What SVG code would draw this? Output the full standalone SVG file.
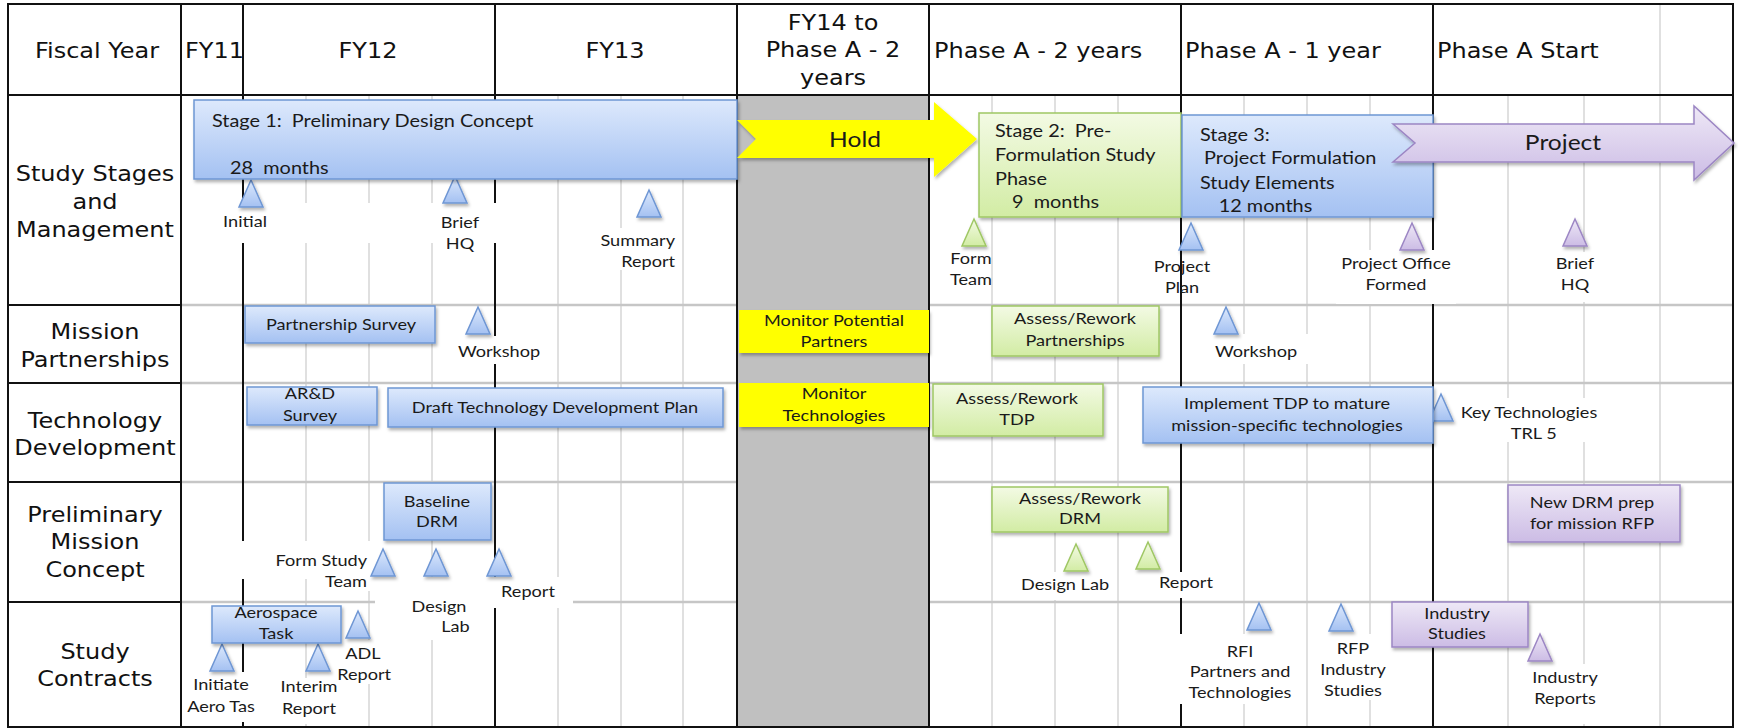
<svg xmlns="http://www.w3.org/2000/svg" width="1738" height="728" viewBox="0 0 1738 728">
<defs>
<linearGradient id="gB" x1="0" y1="0" x2="0" y2="1"><stop offset="0" stop-color="#dde9fc"/><stop offset="1" stop-color="#a4c1f2"/></linearGradient>
<linearGradient id="gG" x1="0" y1="0" x2="0" y2="1"><stop offset="0" stop-color="#f3fae4"/><stop offset="1" stop-color="#d2eca4"/></linearGradient>
<linearGradient id="gP" x1="0" y1="0" x2="0" y2="1"><stop offset="0" stop-color="#eee8f6"/><stop offset="1" stop-color="#ccbce5"/></linearGradient>
<filter id="sh" x="-10%" y="-10%" width="130%" height="150%"><feDropShadow dx="1.5" dy="2.5" stdDeviation="1.5" flood-color="#000" flood-opacity="0.3"/></filter>
<path id="tri" d="M0,0 L12,27 L-12,27 Z"/>
</defs>
<style>
.hd{font-family:"DejaVu Sans",Verdana,sans-serif;font-size:20.5px;fill:#111}
.c{text-anchor:middle}
.e{text-anchor:end}
.lb{font-family:Lato,"Open Sans",sans-serif;font-size:15.5px;fill:#1a1a1a;white-space:pre}
.st{font-family:Lato,"Open Sans",sans-serif;font-size:17px;fill:#1a1a1a;white-space:pre}
.big{font-family:Lato,"Open Sans",sans-serif;font-size:21px;fill:#1a1a1a}
.bx{stroke-width:1.5;filter:url(#sh)}
.b{fill:url(#gB);stroke:#6e96d4}
.g{fill:url(#gG);stroke:#9fc764}
.p{fill:url(#gP);stroke:#9c86c4}
.y{fill:#ffff00}
.minor{stroke:#d6d6d6;stroke-width:1.5}
.hl{stroke:#c6c6c6;stroke-width:2.5}
.blk{stroke:#111;stroke-width:2}
.wb{fill:#fff}
</style>
<rect x="0" y="0" width="1738" height="728" fill="#fff"/>
<g id="grid">
<g class="minor">
<line x1="306" y1="96" x2="306" y2="727"/><line x1="369" y1="96" x2="369" y2="727"/><line x1="432" y1="96" x2="432" y2="727"/>
<line x1="558" y1="96" x2="558" y2="727"/><line x1="621" y1="96" x2="621" y2="727"/><line x1="683" y1="96" x2="683" y2="727"/>
<line x1="992" y1="96" x2="992" y2="727"/><line x1="1055" y1="96" x2="1055" y2="727"/><line x1="1118" y1="96" x2="1118" y2="727"/>
<line x1="1244" y1="96" x2="1244" y2="727"/><line x1="1307" y1="96" x2="1307" y2="727"/><line x1="1370" y1="96" x2="1370" y2="727"/>
<line x1="1508" y1="96" x2="1508" y2="727"/><line x1="1584" y1="96" x2="1584" y2="727"/><line x1="1660" y1="4" x2="1660" y2="727"/>
</g>
<g class="hl">
<line x1="181" y1="305" x2="1733" y2="305"/><line x1="181" y1="383" x2="1733" y2="383"/>
<line x1="181" y1="482" x2="1733" y2="482"/><line x1="181" y1="602" x2="1733" y2="602"/>
</g>
<rect x="737" y="96" width="192" height="631" fill="#c0c0c0"/>
<g class="blk">
<line x1="8" y1="95" x2="1733" y2="95"/>
<line x1="8" y1="305" x2="181" y2="305"/><line x1="8" y1="383" x2="181" y2="383"/>
<line x1="8" y1="482" x2="181" y2="482"/><line x1="8" y1="602" x2="181" y2="602"/>
<line x1="181" y1="4" x2="181" y2="727"/><line x1="243" y1="4" x2="243" y2="727"/>
<line x1="495" y1="4" x2="495" y2="727"/><line x1="737" y1="4" x2="737" y2="727"/>
<line x1="929" y1="4" x2="929" y2="727"/><line x1="1181" y1="4" x2="1181" y2="727"/>
<line x1="1433" y1="4" x2="1433" y2="727"/>
</g>
<rect x="8" y="4" width="1725" height="723" fill="none" stroke="#111" stroke-width="2"/>
<g class="wb">
<rect x="222" y="203" width="276" height="40"/><rect x="436" y="240" width="50" height="12"/>
<rect x="596" y="228" width="82" height="42"/>
<rect x="1336" y="250" width="120" height="54"/>
<rect x="1550" y="252" width="52" height="50"/>
<rect x="458" y="336" width="84" height="28"/>
<rect x="1216" y="334" width="94" height="30"/>
<rect x="1455" y="398" width="148" height="44"/>
<rect x="238" y="541" width="132" height="38"/><rect x="340" y="579" width="30" height="12"/>
<rect x="375" y="577" width="198" height="31"/><rect x="410" y="608" width="60" height="32"/>
<rect x="1022" y="572" width="88" height="28"/>
<rect x="1158" y="572" width="60" height="26"/>
<rect x="190" y="672" width="62" height="50"/>
<rect x="280" y="678" width="60" height="46"/>
<rect x="337" y="640" width="56" height="44"/>
<rect x="1176" y="634" width="130" height="70"/>
<rect x="1310" y="634" width="68" height="66"/>
<rect x="1522" y="664" width="88" height="60"/>
</g>
</g>
<g id="header">
<text class="hd c" transform="translate(97 58) scale(1.17 1)">Fiscal Year</text>
<text class="hd" transform="translate(185 58) scale(1.17 1)">FY11</text>
<text class="hd c" transform="translate(368 58) scale(1.17 1)">FY12</text>
<text class="hd c" transform="translate(615 58) scale(1.17 1)">FY13</text>
<text class="hd c" transform="translate(833 30) scale(1.17 1)"><tspan x="0">FY14 to</tspan><tspan x="0" dy="27.5">Phase A - 2</tspan><tspan x="0" dy="27.5">years</tspan></text>
<text class="hd" transform="translate(934 58) scale(1.17 1)">Phase A - 2 years</text>
<text class="hd" transform="translate(1185 58) scale(1.17 1)">Phase A - 1 year</text>
<text class="hd" transform="translate(1437 58) scale(1.17 1)">Phase A Start</text>
</g>
<g id="row-labels">
<text class="hd c" transform="translate(95 181) scale(1.17 1)"><tspan x="0">Study Stages</tspan><tspan x="0" dy="28">and</tspan><tspan x="0" dy="28">Management</tspan></text>
<text class="hd c" transform="translate(95 339) scale(1.17 1)"><tspan x="0">Mission</tspan><tspan x="0" dy="28">Partnerships</tspan></text>
<text class="hd c" transform="translate(95 428) scale(1.17 1)"><tspan x="0">Technology</tspan><tspan x="0" dy="27">Development</tspan></text>
<text class="hd c" transform="translate(95 522) scale(1.17 1)"><tspan x="0">Preliminary</tspan><tspan x="0" dy="27">Mission</tspan><tspan x="0" dy="28">Concept</tspan></text>
<text class="hd c" transform="translate(95 659) scale(1.17 1)"><tspan x="0">Study</tspan><tspan x="0" dy="27">Contracts</tspan></text>
</g>
<g id="ms-initial"><use href="#tri" class="b bx" x="251" y="180"/><text class="lb c" transform="translate(245 227) scale(1.17 1)">Initial</text></g>
<g id="ms-brief-hq-1"><use href="#tri" class="b bx" x="455" y="176"/><text class="lb c" transform="translate(460 228) scale(1.17 1)"><tspan x="0">Brief</tspan><tspan x="0" dy="21">HQ</tspan></text></g>
<g id="ms-summary-report"><use href="#tri" class="b bx" x="649" y="190"/><text class="lb e" transform="translate(675 246) scale(1.17 1)"><tspan x="0">Summary</tspan><tspan x="0" dy="21">Report</tspan></text></g>
<g id="ms-form-team"><use href="#tri" class="g bx" x="974" y="219"/><text class="lb c" transform="translate(971 264) scale(1.17 1)"><tspan x="0">Form</tspan><tspan x="0" dy="21">Team</tspan></text></g>
<g id="ms-project-plan"><use href="#tri" class="b bx" x="1191" y="223"/><text class="lb c" transform="translate(1182 272) scale(1.17 1)"><tspan x="0">Project</tspan><tspan x="0" dy="21">Plan</tspan></text></g>
<g id="ms-project-office"><use href="#tri" class="p bx" x="1412" y="223"/><text class="lb c" transform="translate(1396 269) scale(1.17 1)"><tspan x="0">Project Office</tspan><tspan x="0" dy="21">Formed</tspan></text></g>
<g id="ms-brief-hq-2"><use href="#tri" class="p bx" x="1575" y="219"/><text class="lb c" transform="translate(1575 269) scale(1.17 1)"><tspan x="0">Brief</tspan><tspan x="0" dy="21">HQ</tspan></text></g>
<g id="ms-workshop-1"><use href="#tri" class="b bx" x="478" y="307"/><text class="lb c" transform="translate(499 357) scale(1.17 1)">Workshop</text></g>
<g id="ms-workshop-2"><use href="#tri" class="b bx" x="1226" y="307"/><text class="lb c" transform="translate(1256 357) scale(1.17 1)">Workshop</text></g>
<g id="ms-key-tech"><use href="#tri" class="b bx" x="1441" y="394"/><text class="lb c" transform="translate(1529 418) scale(1.17 1)"><tspan x="0">Key Technologies</tspan><tspan x="4" dy="21">TRL 5</tspan></text></g>
<g id="ms-form-study-team"><use href="#tri" class="b bx" x="383" y="549"/><text class="lb e" transform="translate(367 566) scale(1.17 1)"><tspan x="0">Form Study</tspan><tspan x="0" dy="21">Team</tspan></text></g>
<g id="ms-design-lab-1"><use href="#tri" class="b bx" x="436" y="549"/><text class="lb c" transform="translate(439 612) scale(1.17 1)"><tspan x="0">Design</tspan><tspan x="14" dy="20">Lab</tspan></text></g>
<g id="ms-report-1"><use href="#tri" class="b bx" x="499" y="549"/><text class="lb c" transform="translate(528 597) scale(1.17 1)">Report</text></g>
<g id="ms-design-lab-2"><use href="#tri" class="g bx" x="1076" y="544"/><text class="lb c" transform="translate(1065 590) scale(1.17 1)">Design Lab</text></g>
<g id="ms-report-2"><use href="#tri" class="g bx" x="1148" y="542"/><text class="lb c" transform="translate(1186 588) scale(1.17 1)">Report</text></g>
<g id="ms-initiate"><use href="#tri" class="b bx" x="222" y="644"/><text class="lb c" transform="translate(221 690) scale(1.17 1)"><tspan x="0">Initiate</tspan><tspan x="0" dy="22">Aero Tas</tspan></text></g>
<g id="ms-interim"><use href="#tri" class="b bx" x="318" y="644"/><text class="lb c" transform="translate(309 692) scale(1.17 1)"><tspan x="0">Interim</tspan><tspan x="0" dy="22">Report</tspan></text></g>
<g id="ms-adl"><use href="#tri" class="b bx" x="358" y="611"/><text class="lb c" transform="translate(363 659) scale(1.17 1)"><tspan x="0">ADL</tspan><tspan x="1" dy="21">Report</tspan></text></g>
<g id="ms-rfi"><use href="#tri" class="b bx" x="1259" y="603"/><text class="lb c" transform="translate(1240 657) scale(1.17 1)"><tspan x="0">RFI</tspan><tspan x="0" dy="20.5">Partners and</tspan><tspan x="0" dy="20.5">Technologies</tspan></text></g>
<g id="ms-rfp"><use href="#tri" class="b bx" x="1341" y="604"/><text class="lb c" transform="translate(1353 654) scale(1.17 1)"><tspan x="0">RFP</tspan><tspan x="0" dy="21.5">Industry</tspan><tspan x="0" dy="21">Studies</tspan></text></g>
<g id="ms-industry-reports"><use href="#tri" class="p bx" x="1540" y="634"/><text class="lb c" transform="translate(1565 683) scale(1.17 1)"><tspan x="0">Industry</tspan><tspan x="0" dy="21">Reports</tspan></text></g>
<g id="stage1"><rect class="b bx" x="194" y="100" width="543" height="79"/><text class="st" transform="translate(212 127) scale(1.17 1)">Stage 1:  Preliminary Design Concept</text><text class="st" transform="translate(230 174) scale(1.17 1)">28  months</text></g>
<g id="hold"><polygon class="y" filter="url(#sh)" points="737,120 934,120 934,102 977,139 934,177 934,158 737,158 756,139"/><text class="big c" transform="translate(855 147) scale(1.17 1)">Hold</text></g>
<g id="stage2"><rect class="g bx" x="979" y="113" width="202" height="104"/><text class="st" transform="translate(995 137) scale(1.17 1)"><tspan x="0">Stage 2:  Pre-</tspan><tspan x="0" dy="24">Formulation Study</tspan><tspan x="0" dy="24.5">Phase</tspan><tspan x="14.5" dy="23">9  months</tspan></text></g>
<g id="stage3"><rect class="b bx" x="1182" y="115" width="251" height="102"/><text class="st" transform="translate(1200 141) scale(1.17 1)"><tspan x="0">Stage 3:</tspan><tspan x="3.5" dy="23">Project Formulation</tspan><tspan x="0" dy="25">Study Elements</tspan><tspan x="16" dy="23">12 months</tspan></text></g>
<g id="project"><polygon class="p bx" points="1393,124 1694,124 1694,106 1734,143 1694,180 1694,162 1393,162 1415,143"/><text class="big c" transform="translate(1563 150) scale(1.17 1)">Project</text></g>
<g id="partnership-survey"><rect class="b bx" x="245" y="306" width="190" height="37"/><text class="lb c" transform="translate(341 330) scale(1.17 1)">Partnership Survey</text></g>
<g id="monitor-partners"><rect class="y" filter="url(#sh)" x="739" y="310" width="190" height="43"/><text class="lb c" transform="translate(834 326) scale(1.17 1)"><tspan x="0">Monitor Potential</tspan><tspan x="0" dy="21">Partners</tspan></text></g>
<g id="assess-partnerships"><rect class="g bx" x="992" y="306" width="167" height="50"/><text class="lb c" transform="translate(1075 324) scale(1.17 1)"><tspan x="0">Assess/Rework</tspan><tspan x="0" dy="22">Partnerships</tspan></text></g>
<g id="ard-survey"><rect class="b bx" x="247" y="387" width="130" height="38"/><text class="lb c" transform="translate(310 399) scale(1.17 1)"><tspan x="0">AR&amp;D</tspan><tspan x="0" dy="22">Survey</tspan></text></g>
<g id="draft-tdp"><rect class="b bx" x="388" y="388" width="335" height="39"/><text class="lb c" transform="translate(555 413) scale(1.17 1)">Draft Technology Development Plan</text></g>
<g id="monitor-tech"><rect class="y" filter="url(#sh)" x="739" y="383" width="190" height="44"/><text class="lb c" transform="translate(834 399) scale(1.17 1)"><tspan x="0">Monitor</tspan><tspan x="0" dy="22">Technologies</tspan></text></g>
<g id="assess-tdp"><rect class="g bx" x="933" y="384" width="170" height="52"/><text class="lb c" transform="translate(1017 404) scale(1.17 1)"><tspan x="0">Assess/Rework</tspan><tspan x="0" dy="21">TDP</tspan></text></g>
<g id="implement-tdp"><rect class="b bx" x="1143" y="387" width="290" height="56"/><text class="lb c" transform="translate(1287 409) scale(1.17 1)"><tspan x="0">Implement TDP to mature</tspan><tspan x="0" dy="22">mission-specific technologies</tspan></text></g>
<g id="baseline-drm"><rect class="b bx" x="384" y="483" width="107" height="57"/><text class="lb c" transform="translate(437 507) scale(1.17 1)"><tspan x="0">Baseline</tspan><tspan x="0" dy="20">DRM</tspan></text></g>
<g id="assess-drm"><rect class="g bx" x="992" y="487" width="176" height="45"/><text class="lb c" transform="translate(1080 504) scale(1.17 1)"><tspan x="0">Assess/Rework</tspan><tspan x="0" dy="20">DRM</tspan></text></g>
<g id="new-drm"><rect class="p bx" x="1508" y="485" width="172" height="57"/><text class="lb c" transform="translate(1592 508) scale(1.17 1)"><tspan x="0">New DRM prep</tspan><tspan x="0" dy="21">for mission RFP</tspan></text></g>
<g id="aerospace-task"><rect class="b bx" x="212" y="606" width="129" height="37"/><text class="lb c" transform="translate(276 618) scale(1.17 1)"><tspan x="0">Aerospace</tspan><tspan x="0" dy="21">Task</tspan></text></g>
<g id="industry-studies"><rect class="p bx" x="1392" y="602" width="136" height="45"/><text class="lb c" transform="translate(1457 619) scale(1.17 1)"><tspan x="0">Industry</tspan><tspan x="0" dy="20">Studies</tspan></text></g>
</svg>
